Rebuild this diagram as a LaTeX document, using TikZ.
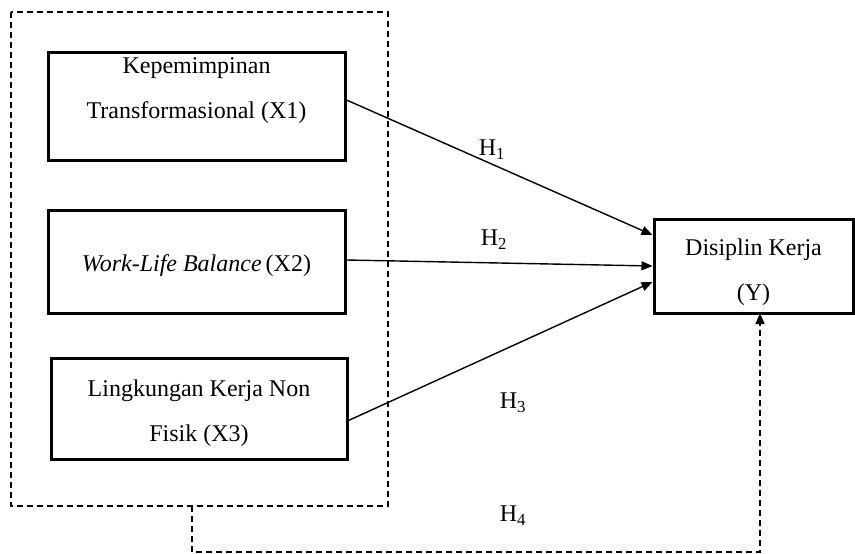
\documentclass[tikz,border=0pt]{standalone}
\usepackage{fontspec}
\setmainfont{Liberation Serif}
\usetikzlibrary{arrows.meta,calc}
\begin{document}
\begin{tikzpicture}[x=1pt,y=-1pt,
  every node/.style={font=\fontsize{24}{45}\selectfont},
  varbox/.style={draw,line width=3pt,minimum width=#1,inner sep=0pt},
  txt/.style={align=center,inner sep=0pt},
  arr/.style={line width=1.4pt,-{Triangle[length=11pt,width=9pt]}},
  darr/.style={line width=1.3pt,dash pattern=on 6pt off 4pt,-{Triangle[length=11pt,width=9pt]}},
  dbox/.style={line width=1.3pt,dash pattern=on 6pt off 4pt},
  hlab/.style={inner sep=0pt}]
\useasboundingbox (0,0) rectangle (855,554);
% outer dashed group
\draw[dbox] (11,12) rectangle (388,506);
\coordinate (gb) at (192,506);
% boxes
\node[varbox=297pt,minimum height=108pt] (x1) at (196.5,106) {};
\node[txt] (x1t) at (196.5,91) {Kepemimpinan\\Transformasional (X1)};
\node[varbox=297pt,minimum height=103pt] (x2) at (196.5,261.5) {};
\node[txt] (x2t) at (196.5,266) {\textit{Work-Life Balance}\,(X2)};
\node[varbox=296pt,minimum height=101pt] (x3) at (199,408.5) {};
\node[txt] (x3t) at (199,413) {Lingkungan Kerja Non\\Fisik (X3)};
\node[varbox=199pt,minimum height=94pt] (y) at (753.5,266) {};
\node[txt] (yt) at (753.5,272) {Disiplin Kerja\\(Y)};
% arrows
\draw[arr] ([yshift=6pt]x1.east) -- ([yshift=31pt]y.west);
\draw[arr] ([yshift=1.5pt]x2.east) -- (y.west);
\draw[arr] ([yshift=-12pt]x3.east) -- ([yshift=-16pt]y.west);
\coordinate (c1) at (192,552);
\coordinate (c2) at (760,552);
\coordinate (yb) at (760,313);
\draw[darr] (gb) -- (c1) -- (c2) -- (yb);
% labels
\node[hlab] (h1) at (492,150) {H\textsubscript{1}};
\node[hlab] (h2) at (494,240) {H\textsubscript{2}};
\node[hlab] (h3) at (513,403) {H\textsubscript{3}};
\node[hlab] (h4) at (513,516) {H\textsubscript{4}};
\end{tikzpicture}
\end{document}
